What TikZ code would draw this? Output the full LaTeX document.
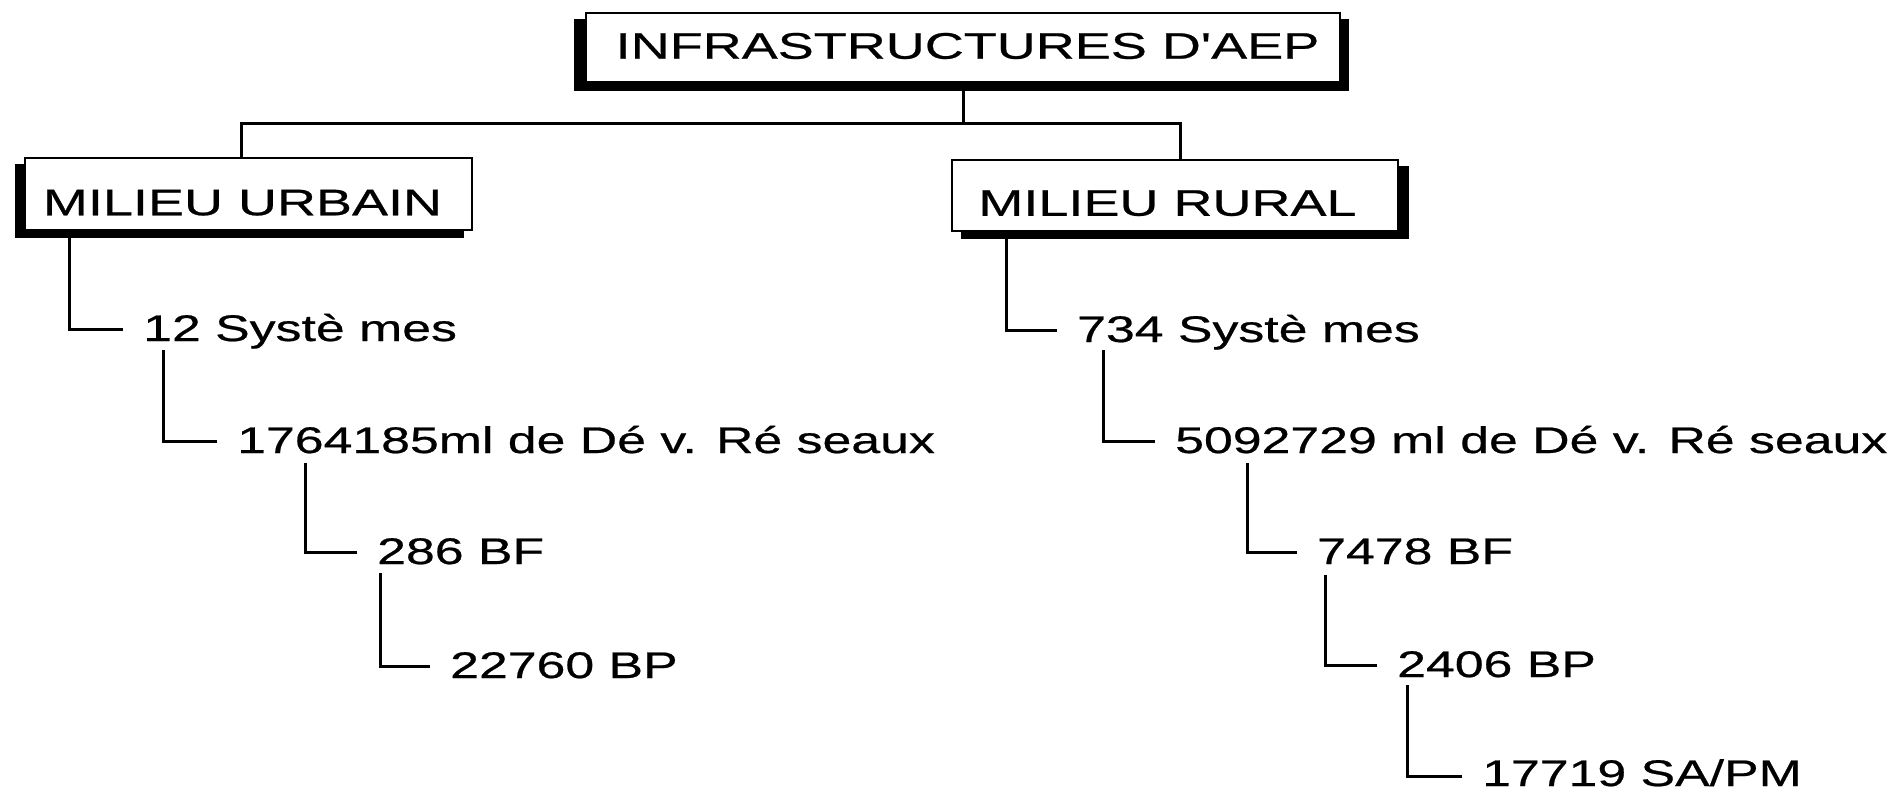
\documentclass[tikz,border=0pt]{standalone}
\usepackage{fontspec}
\setmainfont{Liberation Sans}
\newfontfamily\itemfnt[FakeStretch=1.40,FakeBold=0.6]{Liberation Sans}
\newfontfamily\boxfnt[FakeStretch=1.46,FakeBold=0.6]{Liberation Sans}
\usetikzlibrary{backgrounds}
\newcommand\bxt[3]{\hspace*{#1}\raisebox{#2}[26.5pt][0pt]{#3}}
\begin{document}
\begin{tikzpicture}[x=1pt,y=-1pt,
  boxnode/.style={draw=black, line width=2pt, fill=white, inner sep=0pt,
    font=\boxfnt\fontsize{37}{42}\selectfont},
  item/.style={anchor=base west, inner sep=0pt,
    font=\itemfnt\fontsize{37}{42}\selectfont},
  conn/.style={line width=3pt},
  shadowfill/.style={fill=black},
]
\useasboundingbox (0,0) rectangle (1899,792);

% boxes
\node[boxnode, minimum width=754pt, minimum height=69pt] (top) at (963,47.5)
  {\bxt{9pt}{2pt}{INFRASTRUCTURES D'AEP}};
\node[boxnode, minimum width=447pt, minimum height=72pt] (ub) at (248.5,194)
  {\bxt{-12pt}{-8pt}{MILIEU URBAIN}};
\node[boxnode, minimum width=446pt, minimum height=71pt] (rb) at (1175,195.5)
  {\bxt{-15pt}{-7pt}{MILIEU RURAL}};

\begin{pgfonlayer}{background}
  \fill[shadowfill] ([shift={(-11pt,-8pt)}]top.south west) rectangle ([shift={(8pt,-7pt)}]top.north east);
  \fill[shadowfill] ([shift={(-9pt,-7pt)}]ub.south west) rectangle ([shift={(-9pt,-7pt)}]ub.north east);
  \fill[shadowfill] ([shift={(10pt,-7pt)}]rb.south west) rectangle ([shift={(10pt,-7pt)}]rb.north east);
\end{pgfonlayer}

% items
\node[item] (u1) at (143,341) {12 Systè mes};
\node[item] (u2) at (237,453) {1764185ml de Dé v. Ré seaux};
\node[item] (u3) at (377,564) {286 BF};
\node[item] (u4) at (450,678) {22760 BP};
\node[item] (r1) at (1077,342) {734 Systè mes};
\node[item] (r2) at (1175,453) {5092729 ml de Dé v. Ré seaux};
\node[item] (r3) at (1317,564) {7478 BF};
\node[item] (r4) at (1397,677) {2406 BP};
\node[item] (r5) at (1482,786) {17719 SA/PM};

% top connectors
\coordinate (j) at (963,123);
\draw[conn] (top.south) -- (j);
\draw[conn] ([xshift=-7.5pt]ub.north) |- (j) -| ([xshift=5pt]rb.north);

% urban tree
\draw[conn] ([xshift=45pt]ub.south west) |- ([xshift=-20pt,yshift=12pt]u1.base west);
\draw[conn] ([xshift=20pt,yshift=-9pt]u1.base west) |- ([xshift=-20pt,yshift=12pt]u2.base west);
\draw[conn] ([xshift=68pt,yshift=-10pt]u2.base west) |- ([xshift=-20pt,yshift=12pt]u3.base west);
\draw[conn] ([xshift=3pt,yshift=-9pt]u3.base west) |- ([xshift=-20pt,yshift=12pt]u4.base west);

% rural tree
\draw[conn] ([xshift=55pt]rb.south west) |- ([xshift=-20pt,yshift=12pt]r1.base west);
\draw[conn] ([xshift=26pt,yshift=-8pt]r1.base west) |- ([xshift=-20pt,yshift=12pt]r2.base west);
\draw[conn] ([xshift=72pt,yshift=-10pt]r2.base west) |- ([xshift=-20pt,yshift=12pt]r3.base west);
\draw[conn] ([xshift=8pt,yshift=-11pt]r3.base west) |- ([xshift=-20pt,yshift=12pt]r4.base west);
\draw[conn] ([xshift=10pt,yshift=-8pt]r4.base west) |- ([xshift=-20pt,yshift=10pt]r5.base west);
\end{tikzpicture}
\end{document}
